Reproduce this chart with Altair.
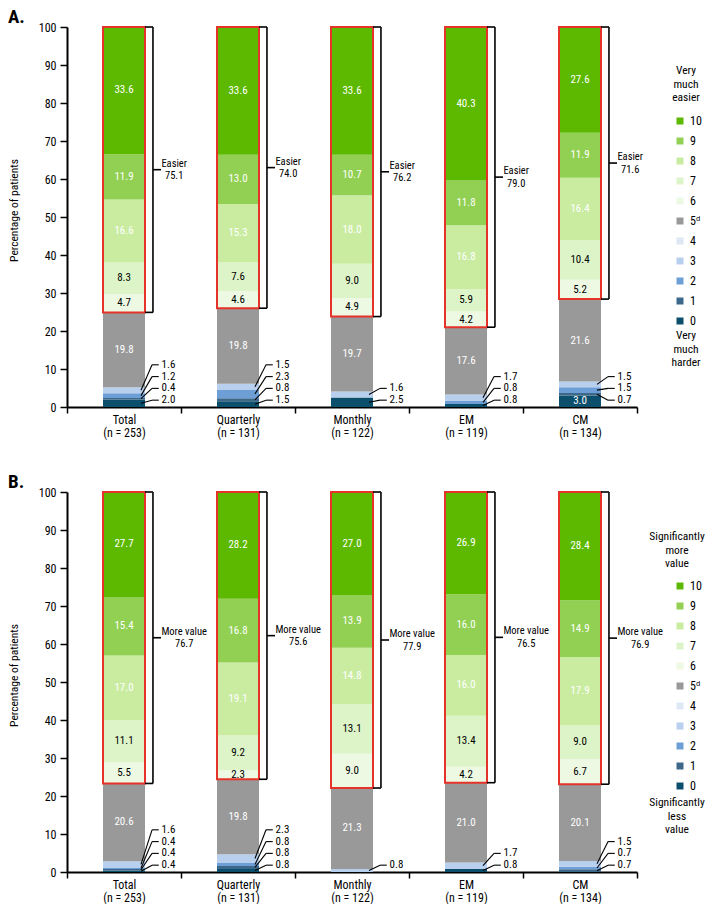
import altair as alt
import pandas as pd

FONT = ("Liberation Sans Narrow, Noto Sans Condensed, Roboto Condensed, "
        "DejaVu Sans Condensed, Arial Narrow, sans-serif")

groups = ["Total", "Quarterly", "Monthly", "EM", "CM"]
group_n = ["(n = 253)", "(n = 131)", "(n = 122)", "(n = 119)", "(n = 134)"]
levels = ["0", "1", "2", "3", "4", "5ᵈ", "6", "7", "8", "9", "10"]
level_colors = ["#0c4f6d", "#3e6889", "#6d9fd6", "#b8cfee", "#dde8f4", "#999999",
                "#edf9e3", "#ddf4c8", "#c9eca1", "#91d052", "#5cb900"]

# Panel A: ease of use (percent of patients per score)
a_0 = [2.0, 1.5, 2.5, 0.8, 3.0]
a_1 = [0.4, 0.8, 0.0, 0.0, 0.7]
a_2 = [1.2, 2.3, 0.0, 0.8, 1.5]
a_3 = [1.6, 1.5, 1.6, 1.7, 1.5]
a_4 = [0.0, 0.0, 0.0, 0.0, 0.0]
a_5 = [19.8, 19.8, 19.7, 17.6, 21.6]
a_6 = [4.7, 4.6, 4.9, 4.2, 5.2]
a_7 = [8.3, 7.6, 9.0, 5.9, 10.4]
a_8 = [16.6, 15.3, 18.0, 16.8, 16.4]
a_9 = [11.9, 13.0, 10.7, 11.8, 11.9]
a_10 = [33.6, 33.6, 33.6, 40.3, 27.6]
a_easier = [75.1, 74.0, 76.2, 79.0, 71.6]

# Panel B: value
b_0 = [0.4, 0.8, 0.0, 0.8, 0.0]
b_1 = [0.4, 0.8, 0.0, 0.0, 0.7]
b_2 = [0.4, 0.8, 0.0, 0.0, 0.7]
b_3 = [1.6, 2.3, 0.8, 1.7, 1.5]
b_4 = [0.0, 0.0, 0.0, 0.0, 0.0]
b_5 = [20.6, 19.8, 21.3, 21.0, 20.1]
b_6 = [5.5, 2.3, 9.0, 4.2, 6.7]
b_7 = [11.1, 9.2, 13.1, 13.4, 9.0]
b_8 = [17.0, 19.1, 14.8, 16.0, 17.9]
b_9 = [15.4, 16.8, 13.9, 16.0, 14.9]
b_10 = [27.7, 28.2, 27.0, 26.9, 28.4]
b_more = [76.7, 75.6, 77.9, 76.5, 76.9]

keys = [f"{g}|{n}" for g, n in zip(groups, group_n)]
legend_order = levels[::-1]
legend_colors = level_colors[::-1]

BAR = 42 / 114
H = 380


def frames(values, top, word):
    rows, small, box = [], [], []
    for gi, key in enumerate(keys):
        cum = 0.0
        k = 0
        for li, lev in enumerate(levels):
            v = values[li][gi]
            start, end = cum, cum + v
            cum = end
            if v <= 0:
                continue
            inside = li >= 5 or v >= 3
            rows.append(dict(group=key, level=lev, start=start, end=end,
                             mid=(start + end) / 2, label=f"{v:.1f}", inside=inside,
                             white=li in (0, 1, 2, 5, 8, 9, 10)))
            if not inside:
                small.append(dict(group=key, mid=(start + end) / 2,
                                  ly=1.8 + 3.1 * k, label=f"{v:.1f}"))
                k += 1
        box.append(dict(group=key, lo=100 - top[gi], hi=100.0,
                        mid=100 - top[gi] / 2, label=f"{word}\n{top[gi]:.1f}"))
    return pd.DataFrame(rows), pd.DataFrame(small), pd.DataFrame(box)


xscale = alt.Scale(domain=keys, paddingInner=0, paddingOuter=0)
xaxis = alt.Axis(title=None, labelExpr="split(datum.label, '|')", labelAngle=0,
                 tickBand="extent", tickSize=6, tickWidth=1.5, tickColor="black",
                 domainColor="black", domainWidth=2, labelFontSize=12, labelColor="black",
                 labelPadding=1, labelLineHeight=13.5, labelFont=FONT)
yscale = alt.Scale(domain=[0, 100], nice=False, clamp=True)
yaxis = alt.Axis(values=list(range(0, 101, 10)), title="Percentage of patients",
                 tickSize=7, tickWidth=1.5, tickColor="black", domainColor="black",
                 domainWidth=2, labelFontSize=12, labelColor="black", labelPadding=4,
                 labelFont=FONT, titleFont=FONT, titleFontSize=11.5,
                 titleFontWeight="normal", titleColor="black", titleX=-53, titleY=183,
                 titleAngle=270, titleBaseline="middle", titleAlign="center")


def X(bp=0.5):
    return alt.X("group:N", scale=xscale, axis=xaxis, bandPosition=bp)


def X2(bp):
    return alt.X2(field="group", bandPosition=bp)


def Y(f):
    return alt.Y(f"{f}:Q", scale=yscale, axis=yaxis)


def panel(values, top, word, word_dx, tag, head, foot, head_y, foot_y, side_x):
    df, sm, bx = frames(values, top, word)
    bars = alt.Chart(df).mark_bar(width=alt.RelativeBandSize(BAR)).encode(
        x=X(), y=Y("start"), y2=alt.Y2("end"),
        color=alt.Color("level:N", scale=alt.Scale(domain=legend_order, range=legend_colors),
                        legend=alt.Legend(title=None, orient="none", legendX=607, legendY=88,
                                          symbolType="square", symbolSize=49,
                                          symbolStrokeWidth=0, labelFontSize=12,
                                          labelFont=FONT, labelColor="black",
                                          rowPadding=8, labelOffset=4, padding=0)))
    box = alt.Chart(bx).mark_bar(width=alt.RelativeBandSize(BAR), fillOpacity=0,
                                 stroke="#e5332a", strokeWidth=2).encode(
        x=X(), y=Y("lo"), y2=alt.Y2("hi"))
    rule = dict(color="black", strokeWidth=1.6)
    bv = alt.Chart(bx).mark_rule(**rule).encode(x=X(0.754), y=Y("lo"), y2=alt.Y2("hi"))
    bt = alt.Chart(bx).mark_rule(**rule).encode(x=X(0.684), x2=X2(0.754), y=Y("hi"))
    bb = alt.Chart(bx).mark_rule(**rule).encode(x=X(0.684), x2=X2(0.754), y=Y("lo"))
    bm = alt.Chart(bx).mark_rule(**rule).encode(x=X(0.754), x2=X2(0.825), y=Y("mid"))
    btxt = alt.Chart(bx).mark_text(align="center", baseline="middle", fontSize=10.5,
                                   lineBreak="\n", lineHeight=12.5, color="black",
                                   dy=-6, dx=word_dx).encode(
        x=X(0.94), y=Y("mid"), text="label:N")
    inw = alt.Chart(df[df.inside & df.white]).mark_text(
        align="center", baseline="middle", fontSize=11, color="white").encode(
        x=X(), y=Y("mid"), text="label:N")
    inb = alt.Chart(df[df.inside & ~df.white]).mark_text(
        align="center", baseline="middle", fontSize=11, color="black").encode(
        x=X(), y=Y("mid"), text="label:N")
    layers = [bars, box, bv, bt, bb, bm, btxt, inw, inb]
    if len(sm):
        lead = alt.Chart(sm).mark_rule(color="black", strokeWidth=1.1).encode(
            x=X(0.649), x2=X2(0.746), y=Y("mid"), y2=alt.Y2("ly"))
        hl = alt.Chart(sm).mark_rule(color="black", strokeWidth=1.1).encode(
            x=X(0.746), x2=X2(0.805), y=Y("ly"))
        st = alt.Chart(sm).mark_text(align="left", baseline="middle", fontSize=11,
                                     color="black").encode(
            x=X(0.83), y=Y("ly"), text="label:N")
        layers += [lead, hl, st]
    ann = pd.DataFrame({"t": [tag], "h": [head], "f": [foot]})
    t1 = alt.Chart(ann).mark_text(fontSize=19, fontWeight="bold", align="left",
                                  baseline="top", color="black").encode(
        x=alt.value(-59), y=alt.value(-19), text="t:N")
    t2 = alt.Chart(ann).mark_text(fontSize=11.5, align="center", baseline="middle",
                                  lineBreak="\n", lineHeight=13.5, color="black").encode(
        x=alt.value(side_x), y=alt.value(head_y), text="h:N")
    t3 = alt.Chart(ann).mark_text(fontSize=11.5, align="center", baseline="middle",
                                  lineBreak="\n", lineHeight=13.5, color="black").encode(
        x=alt.value(side_x), y=alt.value(foot_y), text="f:N")
    layers += [t1, t2, t3]
    return alt.layer(*layers).properties(width=570, height=H)


vals_a = [a_0, a_1, a_2, a_3, a_4, a_5, a_6, a_7, a_8, a_9, a_10]
vals_b = [b_0, b_1, b_2, b_3, b_4, b_5, b_6, b_7, b_8, b_9, b_10]

pa = panel(vals_a, a_easier, "Easier", 0, "A.", "Very\nmuch\neasier",
           "Very\nmuch\nharder", 44, 309, 619)
pb = panel(vals_b, b_more, "More value", 10, "B.", "Significantly\nmore\nvalue",
           "Significantly\nless\nvalue", 45, 311, 610)

chart = alt.vconcat(pa, pb, spacing=34).resolve_scale(color="independent").resolve_legend(
    color="independent").properties(
    padding={"left": 0, "top": 0, "right": 0, "bottom": 0},
    autosize=alt.AutoSizeParams(type="pad")).configure(font=FONT).configure_view(
    strokeWidth=0).configure_axis(grid=False)

chart.save("out.html", embed_options={"renderer": "svg", "actions": False})
